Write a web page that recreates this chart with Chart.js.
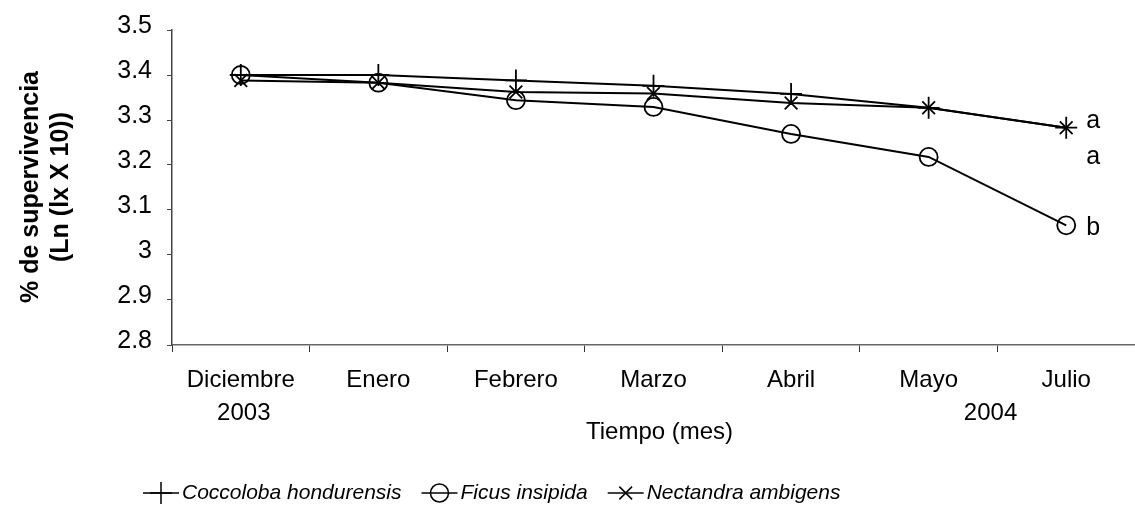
<!DOCTYPE html>
<html>
<head>
<meta charset="utf-8">
<script src="https://cdn.jsdelivr.net/npm/chart.js@4/dist/chart.umd.min.js"></script>
<style>
  html, body { margin: 0; padding: 0; background: #fff; overflow: hidden; }
  #wrap { width: 1135px; height: 512px; position: relative; }
  canvas { display: block; }
</style>
</head>
<body>
<div id="wrap"><canvas id="chart"></canvas></div>
<script>
// Survival data (Ln(lx X 10)) per month
const months = ['Diciembre', 'Enero', 'Febrero', 'Marzo', 'Abril', 'Mayo', 'Julio'];
const coccoloba = [3.400, 3.400, 3.388, 3.376, 3.358, 3.327, 3.283];
const ficus = [3.400, 3.383, 3.344, 3.329, 3.269, 3.218, 3.066];
const nectandra = [3.388, 3.383, 3.362, 3.359, 3.338, 3.327, 3.283];
const yTicks = [2.8, 2.9, 3.0, 3.1, 3.2, 3.3, 3.4, 3.5];
const groupLetters = ['a', 'a', 'b'];

const FONT = '"Liberation Sans", Arial, sans-serif';

const seriesNames = ['Coccoloba hondurensis', 'Ficus insipida', 'Nectandra ambigens'];
const pointStyles = ['cross', 'circle', 'crossRot'];
const pointSizes = [11, 9, 9];

// extra texts, legend and axis titles
const annotations = {
  id: 'annotations',
  afterDraw(chart) {
    const ctx = chart.ctx;
    const x = chart.scales.x;
    ctx.save();
    ctx.fillStyle = '#000';
    ctx.textBaseline = 'middle';

    // y title, two bold lines rotated
    ctx.save();
    ctx.translate(0, 187);
    ctx.rotate(-Math.PI / 2);
    ctx.textAlign = 'center';
    ctx.font = 'bold 25px ' + FONT;
    ctx.fillText('% de supervivencia', 0, 31);
    ctx.fillText('(Ln (lx X 10))', 0, 61);
    ctx.restore();

    // years + x title
    ctx.font = '24px ' + FONT;
    ctx.textAlign = 'center';
    ctx.fillText('2003', x.getPixelForValue(0) + 3, 413);
    ctx.fillText('2004', (x.getPixelForValue(5) * 0.55 + x.getPixelForValue(6) * 0.45), 413);
    ctx.fillText('Tiempo (mes)', x.getPixelForValue(3) + 6, 432);

    // significance letters next to the last points
    ctx.font = '25px ' + FONT;
    ctx.textAlign = 'left';
    const lastX = x.getPixelForValue(months.length - 1) + 20;
    ctx.fillText(groupLetters[0], lastX, 121);
    ctx.fillText(groupLetters[1], lastX, 157);
    ctx.fillText(groupLetters[2], lastX, 228);

    // legend
    ctx.font = 'italic 21px ' + FONT;
    let lx = 143;
    const ly = 493;
    chart.data.datasets.forEach((ds) => {
      ctx.strokeStyle = '#000';
      ctx.lineWidth = 1.5;
      ctx.beginPath();
      ctx.moveTo(lx, ly);
      ctx.lineTo(lx + 36, ly);
      ctx.stroke();
      ctx.fillStyle = 'rgba(0,0,0,0)';
      Chart.helpers.drawPoint(ctx, {
        pointStyle: ds.pointStyle,
        radius: ds.pointRadius,
        borderWidth: 1.5,
        rotation: 0
      }, lx + 18, ly);
      ctx.fillStyle = '#000';
      ctx.fillText(ds.label, lx + 39, ly);
      lx += 39 + ctx.measureText(ds.label).width + 20;
    });
    ctx.restore();
  }
};

const seriesValues = [coccoloba, ficus, nectandra];

new Chart(document.getElementById('chart'), {
  type: 'line',
  data: {
    labels: months,
    datasets: seriesValues.map((vals, i) => ({
      label: seriesNames[i],
      data: vals,
      borderColor: '#000',
      borderWidth: 2,
      backgroundColor: 'rgba(0,0,0,0)',
      pointStyle: pointStyles[i],
      pointRadius: pointSizes[i],
      pointBorderColor: '#000',
      pointBackgroundColor: 'rgba(0,0,0,0)',
      pointBorderWidth: 1.8,
      tension: 0
    }))
  },
  options: {
    responsive: true,
    maintainAspectRatio: false,
    animation: false,
    layout: { autoPadding: false, padding: { top: 30, right: 0, bottom: 0, left: 0 } },
    plugins: {
      legend: { display: false },
      tooltip: { enabled: false }
    },
    scales: {
      x: {
        type: 'category',
        offset: true,
        afterFit: (s) => { s.height = 167; s.paddingLeft = 0; s.paddingRight = 0; },
        border: { display: true, color: '#666', width: 1.5 },
        grid: { display: true, drawOnChartArea: false, drawTicks: true, tickLength: 7, color: '#333', offset: true },
        ticks: { color: '#000', font: { family: FONT, size: 24 }, padding: 14, maxRotation: 0, autoSkip: false }
      },
      y: {
        min: 2.8,
        max: 3.5,
        afterFit: (s) => { s.width = 172; },
        afterBuildTicks: (s) => { s.ticks = yTicks.map(v => ({ value: v })); },
        border: { display: true, color: '#444', width: 1.5 },
        grid: { display: true, drawOnChartArea: false, drawTicks: true, tickLength: 5, color: '#444' },
        ticks: {
          color: '#000',
          font: { family: FONT, size: 25 },
          padding: 15,
          labelOffset: -4,
          callback: (v) => String(Number(v.toFixed(1)))
        }
      }
    }
  },
  plugins: [annotations]
});
</script>
</body>
</html>
